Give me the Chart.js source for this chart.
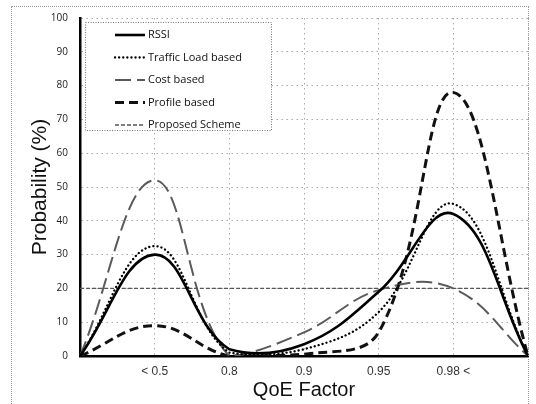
<!DOCTYPE html>
<html><head><meta charset="utf-8">
<script src="https://cdn.jsdelivr.net/npm/chart.js@4.4.1/dist/chart.umd.min.js"></script>
<style>
html,body{margin:0;padding:0;background:#fff;}
#wrap{position:relative;width:536px;height:404px;overflow:hidden;}
#frame{position:absolute;left:11px;top:6px;width:518px;height:420px;border:1px dotted #9a9a9a;box-sizing:border-box;pointer-events:none;}
canvas{position:absolute;left:0;top:0;}
</style></head><body>
<div id="wrap"><canvas id="c" width="536" height="404"></canvas><div id="frame"></div></div>
<script>
// Categories (first and last are unlabelled end points)
const categories = ['', '< 0.5', '0.8', '0.9', '0.95', '0.98 <', ''];
// Series values (Probability %)
const rssi     = [0, 30, 2, 3.5, 19, 42, 0];
const traffic  = [0, 32.5, 1, 2, 13, 45, 0];
const cost     = [0, 52, 0, 7, 19.5, 20, 0];
const profile  = [0, 9, 0, 0.5, 7, 78, 0];
const proposed = [20, 20, 20, 20, 20, 20, 20];
const seriesNames = ['RSSI', 'Traffic Load based', 'Cost based', 'Profile based', 'Proposed Scheme'];
const yTickStep = 10;

const legendBox = {
  id: 'legendBox',
  afterDraw(chart) {
    const ctx = chart.ctx;
    const a = chart.chartArea;
    const x0 = a.left + 5, y0 = a.top + 4, x1 = a.left + 191, y1 = a.top + 112;
    ctx.save();
    ctx.fillStyle = '#fff';
    ctx.fillRect(x0, y0, x1 - x0, y1 - y0);
    ctx.setLineDash([1, 1.5]);
    ctx.strokeStyle = '#777';
    ctx.lineWidth = 1;
    ctx.strokeRect(x0 + 0.5, y0 + 0.5, x1 - x0, y1 - y0);
    chart.data.datasets.forEach((ds, i) => {
      const y = y0 + 13 + i * 22.5;
      ctx.setLineDash(ds.borderDash || []);
      ctx.lineCap = ds.borderCapStyle || 'butt';
      ctx.strokeStyle = ds.borderColor;
      ctx.lineWidth = ds.borderWidth;
      ctx.beginPath();
      ctx.moveTo(x0 + 30, y);
      ctx.lineTo(x0 + 60, y);
      ctx.stroke();
      ctx.setLineDash([]);
      ctx.fillStyle = '#111';
      ctx.font = '11px "Open Sans"';
      ctx.textBaseline = 'middle';
      ctx.textAlign = 'left';
      ctx.fillText(ds.label, x0 + 63, y);
    });
    ctx.restore();
  }
};

const gridStyle = { color: '#a8a8a8', lineWidth: 1, drawTicks: false };
const axisBorder = { display: true, color: '#000', width: 2.5, dash: [1.5, 3.5] };

new Chart(document.getElementById('c'), {
  type: 'line',
  data: {
    labels: categories,
    datasets: [
      { label: seriesNames[0], data: rssi, borderColor: '#000', borderWidth: 2.6, borderDash: [] },
      { label: seriesNames[1], data: traffic, borderColor: '#000', borderWidth: 2.3, borderDash: [0.1, 4], borderCapStyle: 'round' },
      { label: seriesNames[2], data: cost, borderColor: '#5a5a5a', borderWidth: 2, borderDash: [16, 6] },
      { label: seriesNames[3], data: profile, borderColor: '#111', borderWidth: 3, borderDash: [9, 5] },
      { label: seriesNames[4], data: proposed, borderColor: '#555', borderWidth: 1.4, borderDash: [4, 2] }
    ]
  },
  options: {
    responsive: false,
    animation: false,
    devicePixelRatio: 1,
    layout: { padding: { top: 16, right: 6, left: 0, bottom: 0 } },
    elements: { point: { radius: 0 }, line: { tension: 0.4, fill: false } },
    plugins: { legend: { display: false }, tooltip: { enabled: false } },
    scales: {
      x: {
        type: 'category',
        offset: false,
        grid: gridStyle,
        border: axisBorder,
        ticks: { autoSkip: false, maxRotation: 0, padding: 8, color: '#333',
                 font: { family: '"Liberation Sans", Arial, sans-serif', size: 12 } },
        title: { display: true, text: 'QoE Factor', color: '#111',
                 font: { family: '"Liberation Sans", Arial, sans-serif', size: 20 },
                 padding: { top: 0, bottom: 2 } },
        afterFit(s) { s.height = 48; }
      },
      y: {
        min: 0, max: 100,
        grid: gridStyle,
        border: axisBorder,
        ticks: { stepSize: yTickStep, padding: 12, color: '#222',
                 font: { family: '"Open Sans", sans-serif', size: 10 } },
        title: { display: true, text: 'Probability (%)', color: '#111',
                 font: { family: '"Liberation Sans", Arial, sans-serif', size: 21 },
                 padding: { top: 28, bottom: 0 } },
        afterFit(s) { s.width = 80; }
      }
    }
  },
  plugins: [legendBox]
});
</script>
</body></html>
